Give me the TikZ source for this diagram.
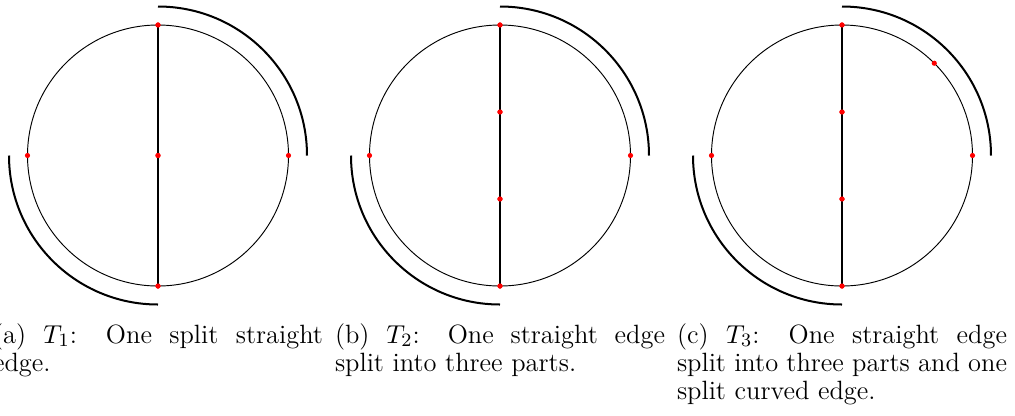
\documentclass[tikz,border=0pt]{standalone}
\begin{document}
\begin{tikzpicture}[x=0.4236pt,y=0.4236pt,
  dot/.style={circle,fill=red,draw=none,inner sep=0pt,minimum size=2.2pt},
  rim/.style={line width=0.4pt},
  chord/.style={line width=0.6pt},
  outer/.style={line width=0.85pt},
  capt/.style={anchor=base west,inner sep=0pt,outer sep=0pt}]
\useasboundingbox (0,0) rectangle (1015,-415);
\newcommand\captxt[1]{\parbox[t]{139.8pt}{\fontsize{11.2}{12}\selectfont #1}}
% ---------- (a)
\begin{scope}[shift={(158,-155.5)}]
  \draw[rim] (0,0) circle (130.5);
  \draw[outer] (90:149) arc (90:0:149);
  \draw[outer] (180:149) arc (180:270:149);
  \node[dot] (a1) at (90:130.5) {};
  \node[dot] (a2) at (270:130.5) {};
  \node[dot] (a3) at (0,0) {};
  \node[dot] (a4) at (0:130.5) {};
  \node[dot] (a5) at (180:130.5) {};
  \draw[chord] (a1.center) -- (a3.center) -- (a2.center);
  \node[dot] at (a1) {};\node[dot] at (a2) {};\node[dot] at (a3) {};
\end{scope}
% ---------- (b)
\begin{scope}[shift={(500,-155.5)}]
  \draw[rim] (0,0) circle (130.5);
  \draw[outer] (90:149) arc (90:0:149);
  \draw[outer] (180:149) arc (180:270:149);
  \node[dot] (b1) at (90:130.5) {};
  \node[dot] (b2) at (270:130.5) {};
  \node[dot] (b3) at (0,43.5) {};
  \node[dot] (b4) at (0,-43.5) {};
  \node[dot] (b5) at (0:130.5) {};
  \node[dot] (b6) at (180:130.5) {};
  \draw[chord] (b1.center) -- (b3.center) -- (b4.center) -- (b2.center);
  \node[dot] at (b1) {};\node[dot] at (b2) {};\node[dot] at (b3) {};\node[dot] at (b4) {};
\end{scope}
% ---------- (c)
\begin{scope}[shift={(842,-155.5)}]
  \draw[rim] (0,0) circle (130.5);
  \draw[outer] (90:149) arc (90:0:149);
  \draw[outer] (180:149) arc (180:270:149);
  \node[dot] (c1) at (90:130.5) {};
  \node[dot] (c2) at (270:130.5) {};
  \node[dot] (c3) at (0,43.5) {};
  \node[dot] (c4) at (0,-43.5) {};
  \node[dot] (c5) at (0:130.5) {};
  \node[dot] (c6) at (180:130.5) {};
  \node[dot] (c7) at (45:130.5) {};
  \draw[chord] (c1.center) -- (c3.center) -- (c4.center) -- (c2.center);
  \node[dot] at (c1) {};\node[dot] at (c2) {};\node[dot] at (c3) {};\node[dot] at (c4) {};
\end{scope}
% ---------- captions
\node[capt] (capa) at (-7,-343) {\captxt{(a) $T_1$: One split straight edge.}};
\node[capt] (capb) at (335,-343) {\captxt{(b) $T_2$: One straight edge split into three parts.}};
\node[capt] (capc) at (677,-343) {\captxt{(c) $T_3$: One straight edge split into three parts and one split curved edge.}};
\end{tikzpicture}
\end{document}
